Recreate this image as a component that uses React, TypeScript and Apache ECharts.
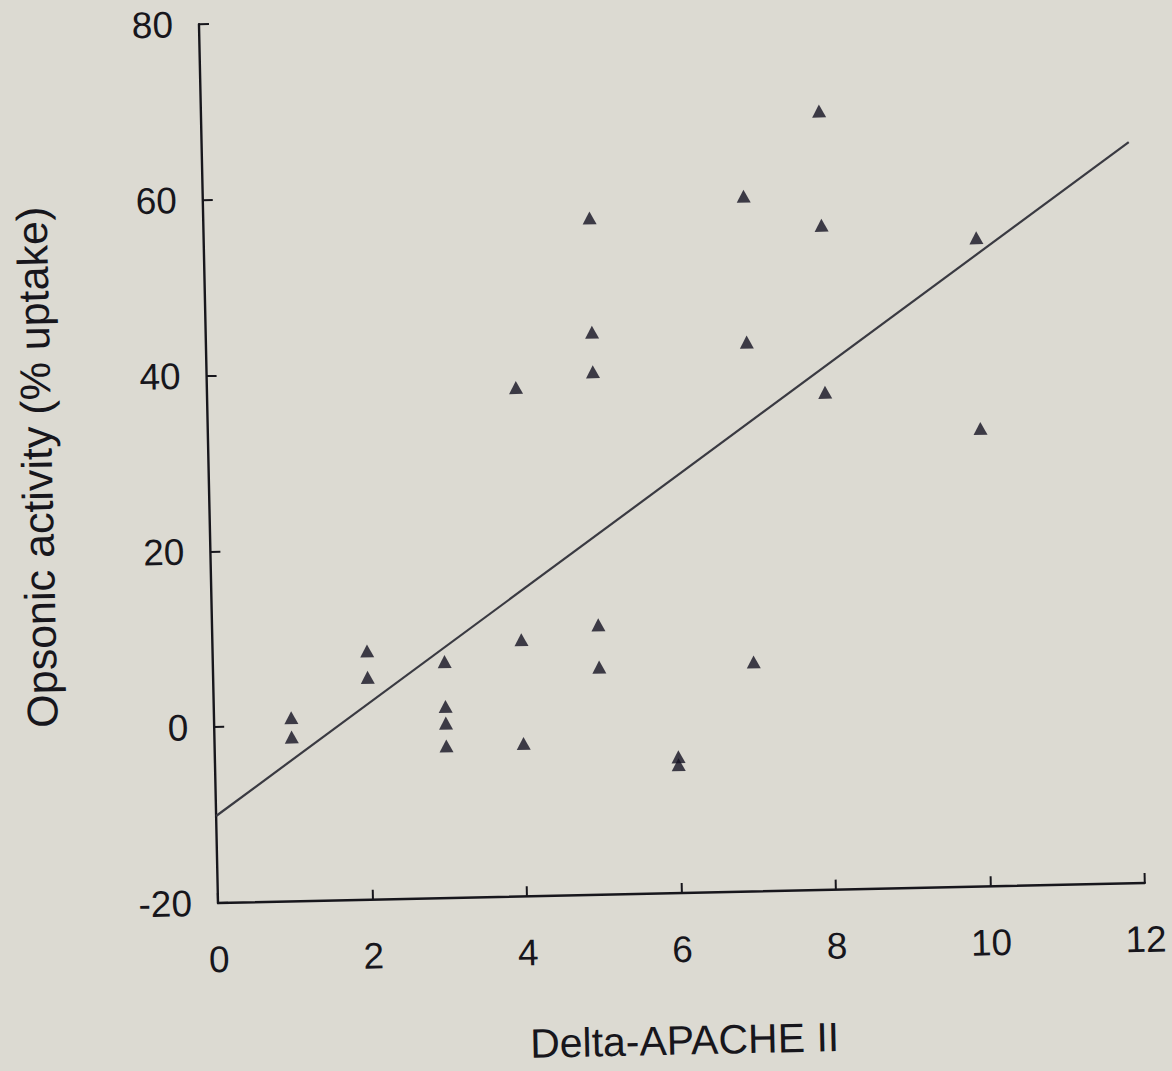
import React, { useEffect, useRef } from "react";
import * as echarts from "echarts";

// Delta-APACHE II (x) vs opsonic activity (% uptake) (y)
const deltaApache = [1, 1, 2, 2, 3, 3, 3, 3, 4, 4, 4, 5, 5, 5, 5, 5, 6, 6, 7, 7, 7, 8, 8, 8, 10, 10];
const opsonicActivity = [
  0.9, -1.3, 8.3, 5.3, 6.9, 1.8, -0.1, -2.7, 37.9, 9.2, -2.6, 57.0, 44.0, 39.5, 10.7, 5.9, -4.5, -5.4,
  59.1, 42.5, 6.1, 68.6, 55.6, 36.6, 53.8, 32.1,
];
// regression line end points
const fitX = [0, 12];
const fitY = [-10.1, 64.3];

const xTicks = [0, 2, 4, 6, 8, 10, 12];
const yTicks = [-20, 0, 20, 40, 60, 80];

const xName = "Delta-APACHE II";
const yName = "Opsonic activity (% uptake)";

const FONT = '"Liberation Sans", Arial, Helvetica, sans-serif';
const INK = "#17161c";

export default function App() {
  const ref = useRef<HTMLDivElement>(null);

  useEffect(() => {
    if (!ref.current) return;
    const chart = echarts.init(ref.current, undefined, { renderer: "svg" });
    const points = deltaApache.map((x, i) => [x, opsonicActivity[i]]);
    const fit = fitX.map((x, i) => [x, fitY[i]]);
    chart.setOption({
      animation: false,
      backgroundColor: "transparent",
      grid: {
        left: 218,
        top: 24,
        width: 927,
        height: 879,
        containLabel: false,
        outerBoundsMode: "none",
      },
      xAxis: {
        type: "value",
        min: xTicks[0],
        max: xTicks[xTicks.length - 1],
        interval: xTicks[1] - xTicks[0],
        name: xName,
        nameLocation: "middle",
        nameGap: 127,
        nameTextStyle: { fontFamily: FONT, fontSize: 41, color: INK },
        axisLine: { onZero: false, lineStyle: { color: INK, width: 2.4 } },
        axisTick: { show: true, inside: true, length: 10, lineStyle: { color: INK, width: 2 } },
        axisLabel: { fontFamily: FONT, fontSize: 37, color: INK, margin: 38 },
        splitLine: { show: false },
      },
      yAxis: {
        type: "value",
        min: yTicks[0],
        max: yTicks[yTicks.length - 1],
        interval: yTicks[1] - yTicks[0],
        name: yName,
        nameLocation: "middle",
        nameGap: 150,
        nameTextStyle: { fontFamily: FONT, fontSize: 43, color: INK },
        axisLine: { onZero: false, lineStyle: { color: INK, width: 2.4 } },
        axisTick: { show: true, inside: true, length: 10, lineStyle: { color: INK, width: 2 } },
        axisLabel: { fontFamily: FONT, fontSize: 37, color: INK, margin: 26, padding: [12, 0, 0, 0] },
        splitLine: { show: false },
      },
      series: [
        {
          type: "line",
          data: fit,
          symbol: "none",
          lineStyle: { color: "#3a3a42", width: 2.2 },
          silent: true,
          z: 2,
        },
        {
          type: "scatter",
          data: points,
          symbol: "triangle",
          symbolSize: [14, 13],
          itemStyle: { color: "#141222" },
          z: 3,
        },
      ],
    });
    return () => chart.dispose();
  }, []);

  return (
    <div
      style={{
        position: "fixed",
        left: 0,
        top: 0,
        width: 1172,
        height: 1071,
        background: "#dcdad2",
        overflow: "hidden",
      }}
    >
      <div
        ref={ref}
        style={{
          position: "absolute",
          left: 0,
          top: 0,
          width: 1240,
          height: 1140,
          transform: "rotate(-1.24deg)",
          transformOrigin: "218px 903px",
        }}
      />
    </div>
  );
}
